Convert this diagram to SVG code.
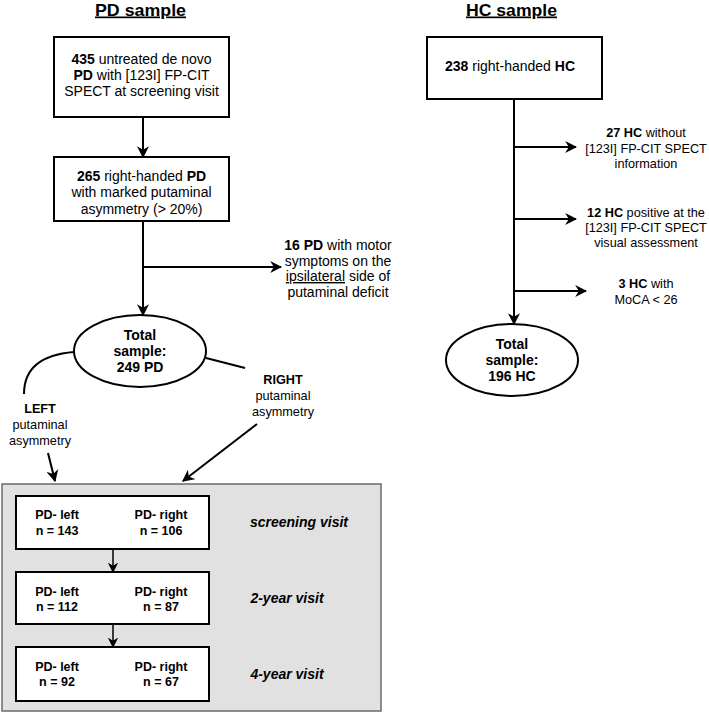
<svg xmlns="http://www.w3.org/2000/svg" width="709" height="713" viewBox="0 0 709 713">
<style>
text{font-family:"Liberation Sans",Arial,sans-serif;fill:#000;text-anchor:middle}
.t{font-size:14px}
.s{font-size:12.7px}
.i{font-size:12.5px;font-weight:bold}
.v{font-size:14px;font-weight:bold;font-style:italic}
.h{font-size:17px;font-weight:bold;text-decoration:underline}
b,.b{font-weight:bold}
.box{fill:#fff;stroke:#000;stroke-width:2}
.ln{fill:none;stroke:#000;stroke-width:2}
.ln2{fill:none;stroke:#000;stroke-width:1.5}
</style>
<defs>
<marker id="ah" viewBox="0 0 10 10" refX="9" refY="5" markerWidth="6" markerHeight="6" markerUnits="strokeWidth" orient="auto">
<path d="M0,0 L10,5 L0,10 L3,5 z" fill="#000"/>
</marker>
<marker id="ah2" viewBox="0 0 10 10" refX="9" refY="5" markerWidth="7" markerHeight="7" markerUnits="strokeWidth" orient="auto">
<path d="M0,0 L10,5 L0,10 L3,5 z" fill="#000"/>
</marker>
</defs>

<text class="h" x="140.5" y="15.5" textLength="91" lengthAdjust="spacingAndGlyphs">PD sample</text>
<text class="h" x="511.5" y="15.5" textLength="91" lengthAdjust="spacingAndGlyphs">HC sample</text>

<g id="summary-panel">
<rect x="2" y="484" width="379" height="227" fill="#e1e1e1" stroke="#6a6a6a" stroke-width="1.5"/>
</g>

<g id="connectors">
<line class="ln" x1="143" y1="117" x2="143" y2="157" marker-end="url(#ah)"/>
<line class="ln" x1="143" y1="221" x2="143" y2="315" marker-end="url(#ah)"/>
<line class="ln" x1="143" y1="267" x2="281" y2="267" marker-end="url(#ah)"/>
<path class="ln" d="M74,352 Q24,356 24,394"/>
<line class="ln" x1="206" y1="358" x2="245" y2="368"/>
<line class="ln" x1="48" y1="453" x2="55" y2="481" marker-end="url(#ah)"/>
<line class="ln" x1="257" y1="424" x2="183" y2="481" marker-end="url(#ah)"/>
<line class="ln2" x1="113" y1="549" x2="113" y2="572" marker-end="url(#ah2)"/>
<line class="ln2" x1="113" y1="624" x2="113" y2="647" marker-end="url(#ah2)"/>
<line class="ln" x1="514" y1="99" x2="514" y2="324" marker-end="url(#ah)"/>
<line class="ln" x1="514" y1="147" x2="576" y2="147" marker-end="url(#ah)"/>
<line class="ln" x1="514" y1="219" x2="576" y2="219" marker-end="url(#ah)"/>
<line class="ln" x1="514" y1="291" x2="586" y2="291" marker-end="url(#ah)"/>
</g>

<g id="pd-initial">
<rect class="box" x="54" y="37" width="175" height="80"/>
<text class="t" x="141.5" y="64"><tspan class="b">435</tspan> untreated de novo</text>
<text class="t" x="141.5" y="80"><tspan class="b">PD</tspan> with [123I] FP-CIT</text>
<text class="t" x="141.5" y="96">SPECT at screening visit</text>
</g>

<g id="pd-asym">
<rect class="box" x="54" y="157" width="175" height="64"/>
<text class="t" x="141.5" y="181"><tspan class="b">265</tspan> right-handed <tspan class="b">PD</tspan></text>
<text class="t" x="141.5" y="197">with marked putaminal</text>
<text class="t" x="141.5" y="214">asymmetry (&gt; 20%)</text>
</g>

<g id="pd-excluded">
<text class="t" x="338" y="250"><tspan class="b">16 PD</tspan> with motor</text>
<text class="t" x="338" y="265.5">symptoms on the</text>
<text class="t" x="338" y="281"><tspan text-decoration="underline">ipsilateral</tspan> side of</text>
<text class="t" x="338" y="296.5">putaminal deficit</text>
</g>

<g id="pd-total">
<ellipse class="box" cx="140" cy="351" rx="66" ry="36"/>
<text class="t b" x="140" y="340">Total</text>
<text class="t b" x="140" y="356">sample:</text>
<text class="t b" x="140" y="372">249 PD</text>
</g>

<g id="left-label">
<text class="s b" x="40" y="413">LEFT</text>
<text class="s" x="40" y="429">putaminal</text>
<text class="s" x="40" y="445">asymmetry</text>
</g>

<g id="right-label">
<text class="s b" x="283" y="384">RIGHT</text>
<text class="s" x="283" y="400">putaminal</text>
<text class="s" x="283" y="416">asymmetry</text>
</g>

<g id="screening">
<rect class="box" x="16" y="496" width="193" height="53"/>
<text class="i" x="57" y="518.5">PD- left</text>
<text class="i" x="57" y="534.5">n = 143</text>
<text class="i" x="161" y="518.5">PD- right</text>
<text class="i" x="161" y="534.5">n = 106</text>
<text class="v" x="299" y="527">screening visit</text>
</g>

<g id="year2">
<rect class="box" x="16" y="572" width="193" height="52"/>
<text class="i" x="57" y="595.5">PD- left</text>
<text class="i" x="57" y="610.5">n = 112</text>
<text class="i" x="161" y="595.5">PD- right</text>
<text class="i" x="161" y="610.5">n = 87</text>
<text class="v" x="287" y="603">2-year visit</text>
</g>

<g id="year4">
<rect class="box" x="16" y="647" width="193" height="54"/>
<text class="i" x="57" y="670.5">PD- left</text>
<text class="i" x="57" y="685.5">n = 92</text>
<text class="i" x="161" y="670.5">PD- right</text>
<text class="i" x="161" y="685.5">n = 67</text>
<text class="v" x="287" y="679">4-year visit</text>
</g>

<g id="hc-initial">
<rect class="box" x="427" y="37" width="175" height="62"/>
<text class="t" x="510" y="71"><tspan class="b">238</tspan> right-handed <tspan class="b">HC</tspan></text>
</g>

<g id="hc-ex1">
<text class="s" x="646" y="136.5"><tspan class="b">27 HC</tspan> without</text>
<text class="s" x="646" y="152.5">[123I] FP-CIT SPECT</text>
<text class="s" x="646" y="167.5">information</text>
</g>

<g id="hc-ex2">
<text class="s" x="646" y="216.5"><tspan class="b">12 HC</tspan> positive at the</text>
<text class="s" x="646" y="232">[123I] FP-CIT SPECT</text>
<text class="s" x="646" y="247">visual assessment</text>
</g>

<g id="hc-ex3">
<text class="s" x="646" y="287.5"><tspan class="b">3 HC</tspan> with</text>
<text class="s" x="646" y="304">MoCA &lt; 26</text>
</g>

<g id="hc-total">
<ellipse class="box" cx="512" cy="360" rx="66" ry="36"/>
<text class="t b" x="512" y="349">Total</text>
<text class="t b" x="512" y="365">sample:</text>
<text class="t b" x="512" y="381">196 HC</text>
</g>
</svg>
